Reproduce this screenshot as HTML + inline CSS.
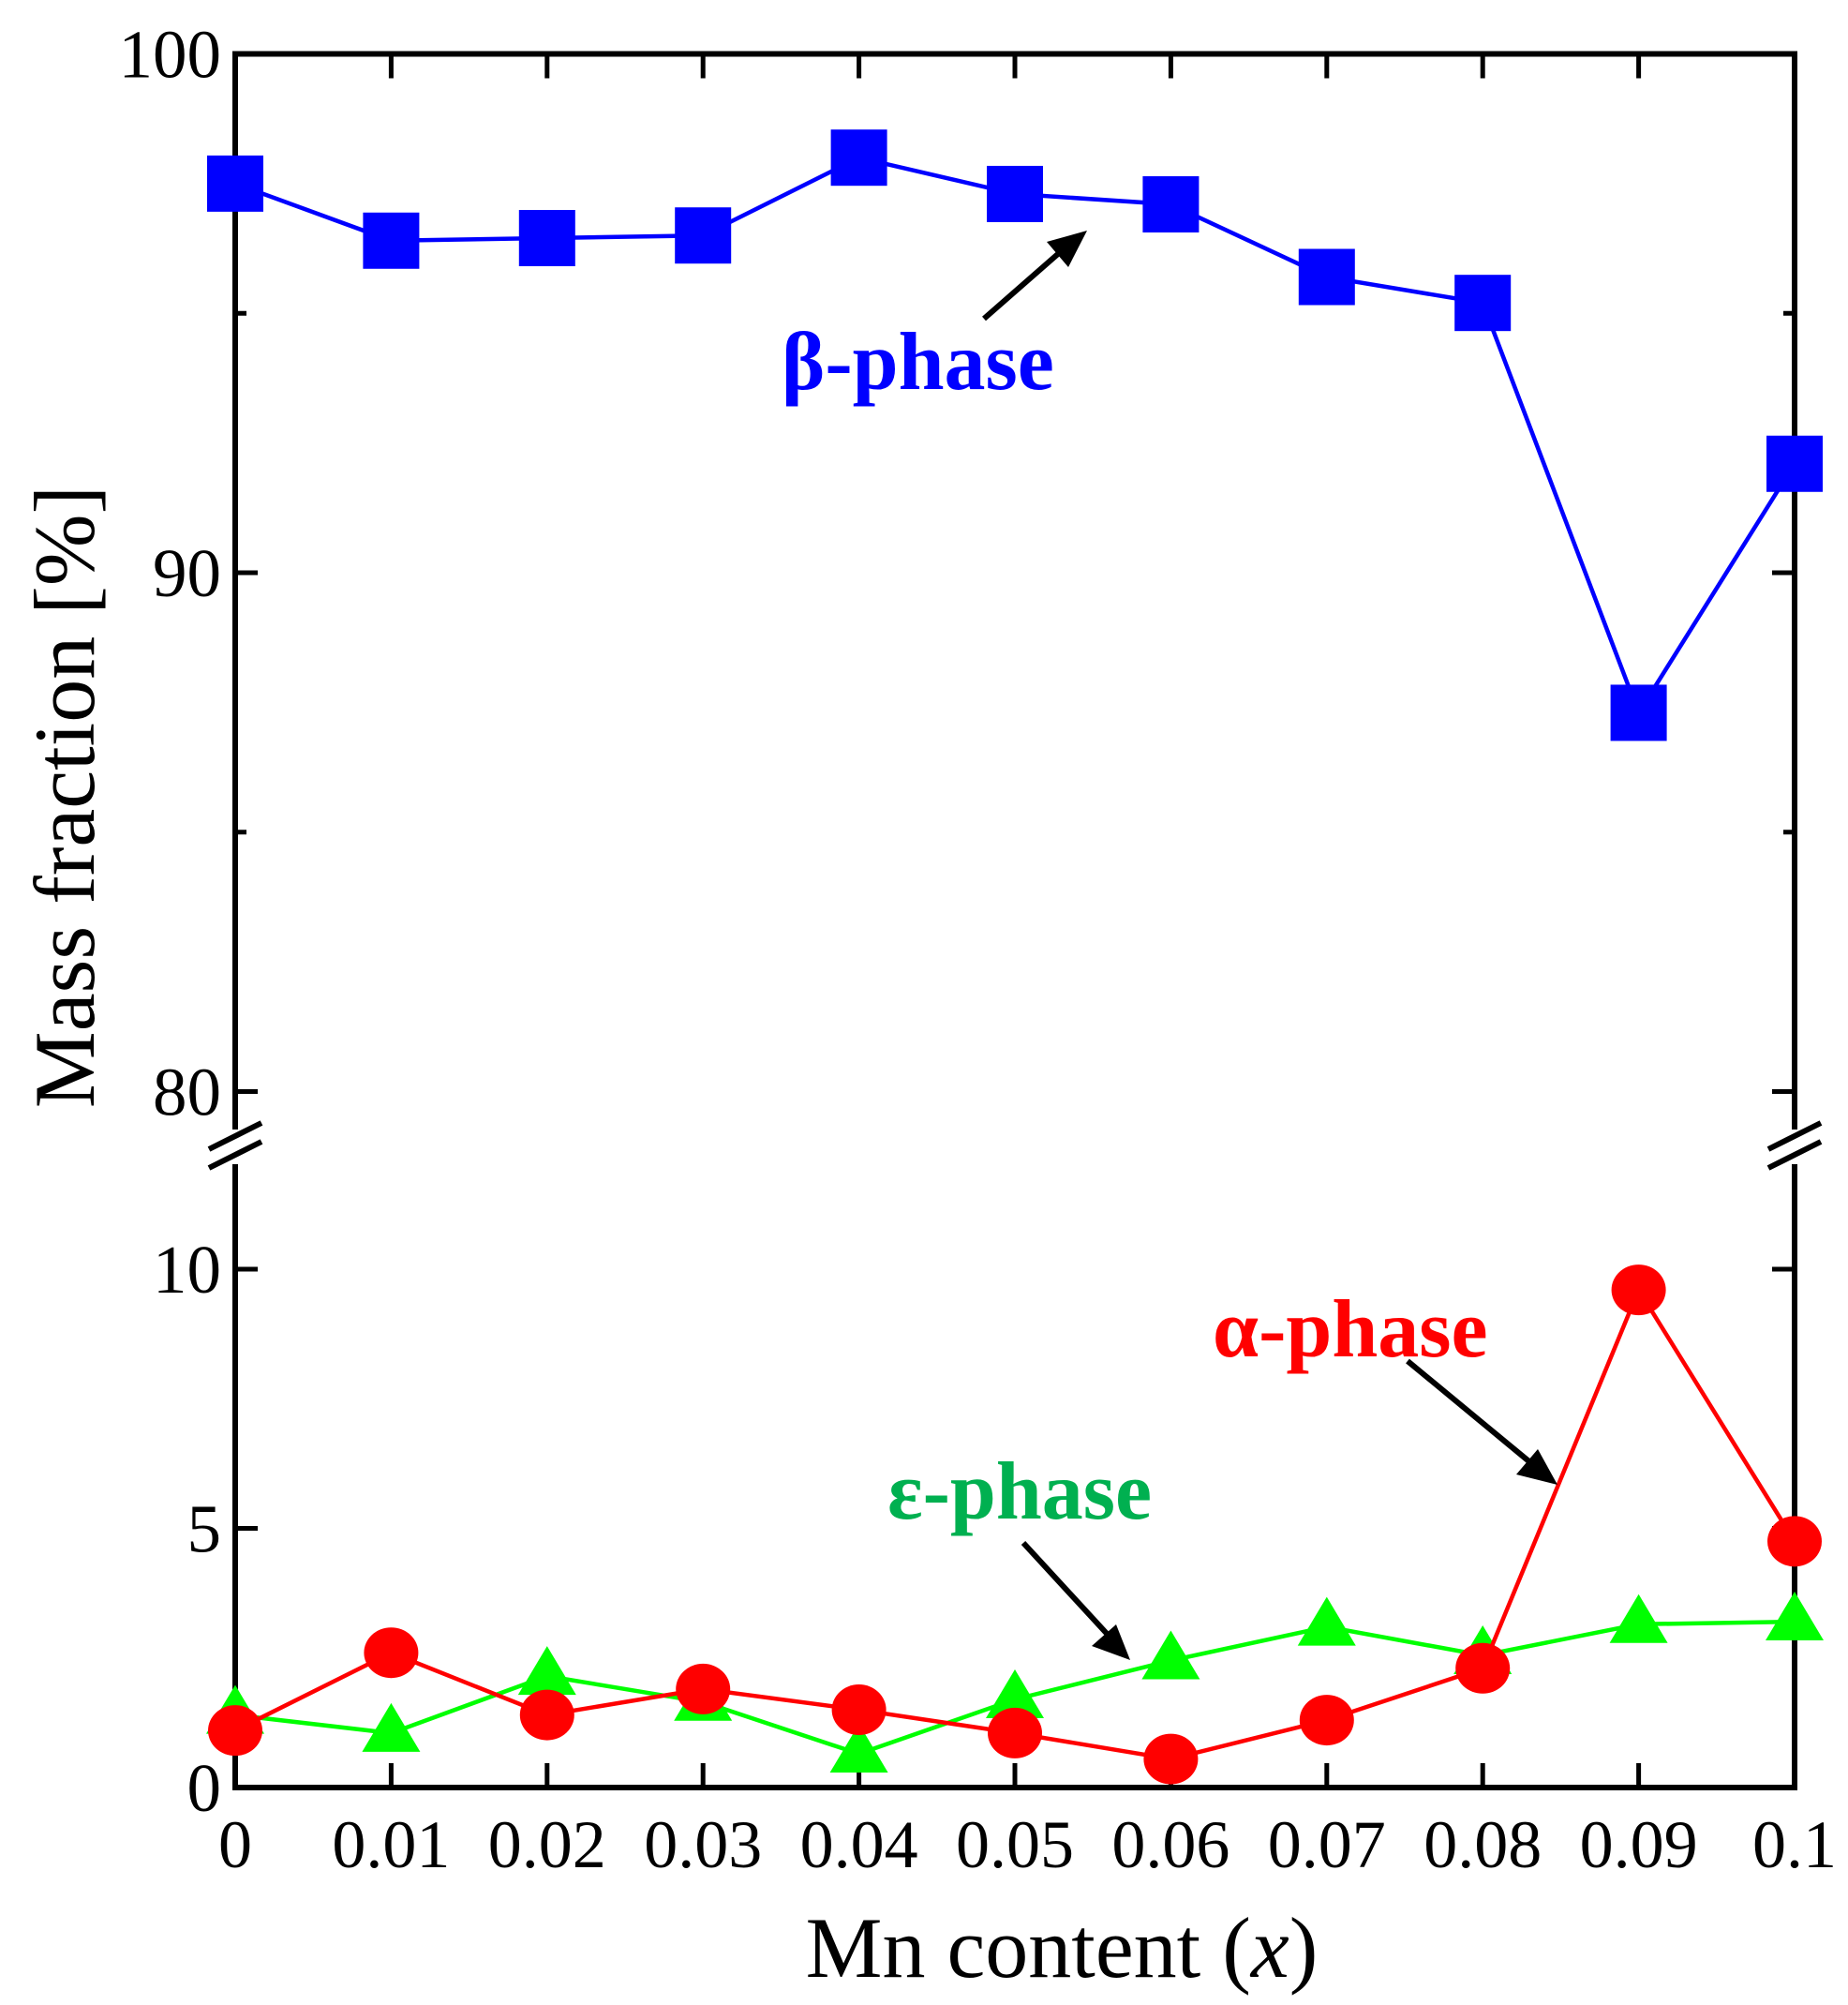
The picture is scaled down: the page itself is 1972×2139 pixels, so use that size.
<!DOCTYPE html>
<html><head><meta charset="utf-8"><style>
html,body{margin:0;padding:0;background:#fff;}
svg{display:block;font-family:"Liberation Serif",serif;}
</style></head><body>
<svg id="chart" width="1972" height="2139" viewBox="0 0 1972 2139" xmlns="http://www.w3.org/2000/svg">
<g id="axes"></g>
<g id="series"></g>
<text x="0" y="0" font-size="92" text-anchor="middle" transform="translate(100,850) rotate(-90)">Mass fraction [%]</text>
<text x="1133" y="2109" font-size="92" text-anchor="middle">Mn content (<tspan font-style="italic">x</tspan>)</text>
<text x="834" y="415" font-size="88" font-weight="bold" fill="#0000ff">β-phase</text>
<text x="1294" y="1447" font-size="88" font-weight="bold" fill="#ff0000">α-phase</text>
<text x="947" y="1620" font-size="88" font-weight="bold" fill="#00b050">ε-phase</text>
<g stroke="#000" stroke-width="6">
<line x1="1050" y1="340" x2="1130" y2="270"/>
<path d="M1160,246 L1117,258 L1140,285 z" fill="#000" stroke="none"/>
<line x1="1502" y1="1452" x2="1634" y2="1561"/>
<path d="M1662,1584 L1618,1573 L1641,1546 z" fill="#000" stroke="none"/>
<line x1="1092" y1="1646" x2="1184" y2="1746"/>
<path d="M1206,1771 L1165,1756 L1191,1733 z" fill="#000" stroke="none"/>
</g>
</svg>
<script>
const categories = [0, 0.01, 0.02, 0.03, 0.04, 0.05, 0.06, 0.07, 0.08, 0.09, 0.1];
const xTickLabels = ["0","0.01","0.02","0.03","0.04","0.05","0.06","0.07","0.08","0.09","0.1"];
const betaValues = [97.5, 96.4, 96.45, 96.5, 98.0, 97.3, 97.1, 95.7, 95.2, 87.3, 92.1];
const alphaValues = [1.1, 2.6, 1.4, 1.9, 1.5, 1.05, 0.55, 1.3, 2.3, 9.6, 4.75];
const epsilonValues = [1.4, 1.05, 2.15, 1.65, 0.65, 1.7, 2.45, 3.1, 2.55, 3.15, 3.2];
const upperTicks = [80, 90, 100];
const lowerTicks = [0, 5, 10];

const NS = "http://www.w3.org/2000/svg";
const X0 = 251, X1 = 1915;
function xs(v){ return X0 + (v - 0) / 0.1 * (X1 - X0); }
function yUp(v){ return 57.5 + (100 - v) * 55.35; }
function yLo(v){ return 1907 - v * 55.3; }
const UP_BOTTOM = 1205, LO_TOP = 1242, BOTTOM = yLo(0), TOP = yUp(100);

function mk(tag, attrs, parent){
  const e = document.createElementNS(NS, tag);
  for (const k in attrs) e.setAttribute(k, attrs[k]);
  parent.appendChild(e);
  return e;
}
const axes = document.getElementById('axes');
const series = document.getElementById('series');
const AX = {stroke:'#000','stroke-width':6,fill:'none'};

let e;
e = mk('line', Object.assign({x1:X0-3,y1:TOP,x2:X1+3,y2:TOP}, AX), axes);
 
e = mk('line', Object.assign({x1:X0-3,y1:BOTTOM,x2:X1+3,y2:BOTTOM}, AX), axes);
 
[X0, X1].forEach(function(x, i){
  let a = mk('line', Object.assign({x1:x,y1:TOP,x2:x,y2:UP_BOTTOM}, AX), axes);
  
  
  let b = mk('line', Object.assign({x1:x,y1:LO_TOP,x2:x,y2:BOTTOM}, AX), axes);
  
  
  [0, 20].forEach(function(d){
    let br = mk('line', {x1:x-28,y1:1226+d,x2:x+28,y2:1198+d,stroke:'#000','stroke-width':6}, axes);
    
    
  });
});
categories.forEach(function(c, i){
  const x = xs(c);
  if (i > 0 && i < categories.length - 1) {
    let t = mk('line', {x1:x,y1:BOTTOM,x2:x,y2:BOTTOM-26,stroke:'#000','stroke-width':5}, axes);
    
    
    let t2 = mk('line', {x1:x,y1:TOP,x2:x,y2:TOP+26,stroke:'#000','stroke-width':5}, axes);
    
    
  }
  let l = mk('text', {x:x,y:1992,'font-size':72,'text-anchor':'middle'}, axes);
  l.textContent = xTickLabels[i];
  
  
});
function yTick(y, len, label){
  [[X0,1],[X1,-1]].forEach(function(p){
    let t = mk('line', {x1:p[0],y1:y,x2:p[0]+p[1]*len,y2:y,stroke:'#000','stroke-width':5}, axes);
    
    
  });
  if (label !== null) {
    let l = mk('text', {x:236,y:y+25,'font-size':73,'text-anchor':'end'}, axes);
    l.textContent = label;
    
    
  }
}
upperTicks.forEach(function(v){ yTick(yUp(v), 24, String(v)); });
[85, 95].forEach(function(v){ yTick(yUp(v), 12, null); });
lowerTicks.forEach(function(v){ yTick(yLo(v), v === 0 ? 0 : 24, String(v)); });

function line(vals, fy, color, name){
  const pts = vals.map(function(v, i){ return xs(categories[i]) + ',' + fy(v); }).join(' ');
  let p = mk('polyline', {points:pts,fill:'none',stroke:color,'stroke-width':4.5}, series);
  
  
}
line(epsilonValues, yLo, '#00ff00', 'epsilon-line');
epsilonValues.forEach(function(v, i){
  const x = xs(categories[i]), y = yLo(v);
  let m = mk('path', {d:'M'+(x-31)+','+(y+20)+' L'+(x+31)+','+(y+20)+' L'+x+','+(y-32)+' z',fill:'#00ff00'}, series);
  
  
});
line(alphaValues, yLo, '#ff0000', 'alpha-line');
alphaValues.forEach(function(v, i){
  let m = mk('ellipse', {cx:xs(categories[i]),cy:yLo(v),rx:29,ry:27,fill:'#ff0000'}, series);
  
  
});
line(betaValues, yUp, '#0000ff', 'beta-line');
betaValues.forEach(function(v, i){
  let m = mk('rect', {x:xs(categories[i])-30,y:yUp(v)-30,width:60,height:60,fill:'#0000ff'}, series);
  
  
});
</script>
</body></html>
